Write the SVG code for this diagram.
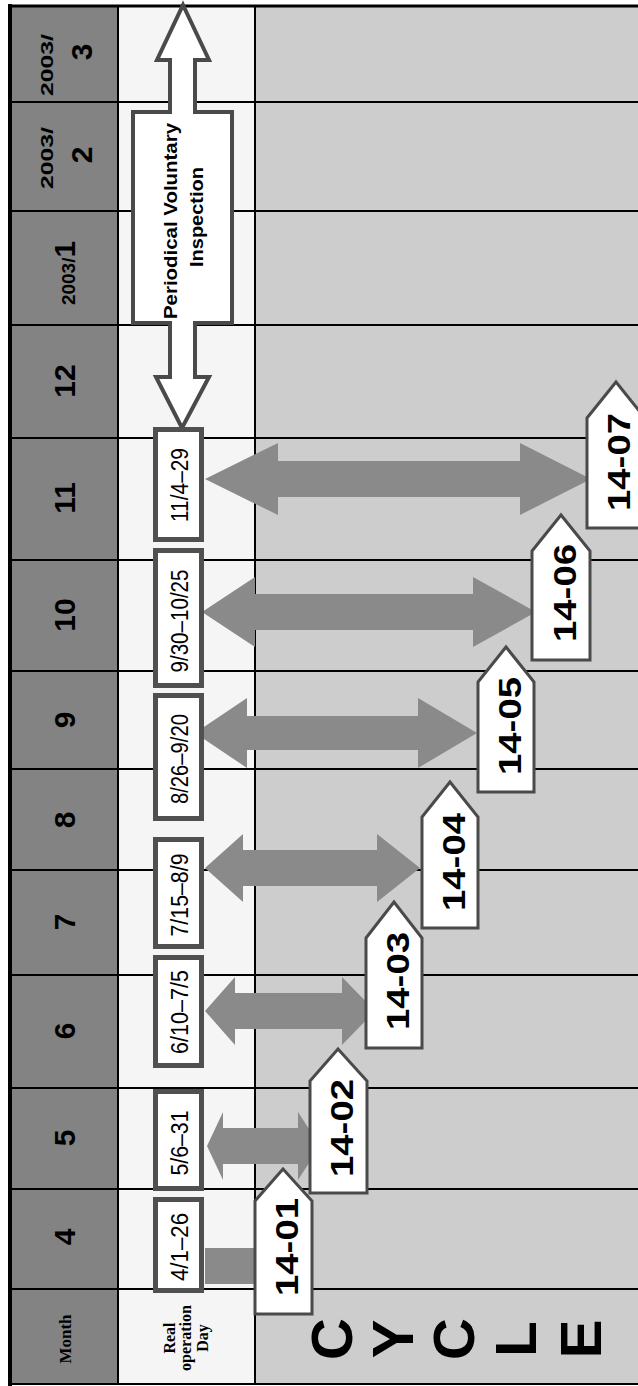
<svg xmlns="http://www.w3.org/2000/svg" width="638" height="1386" viewBox="0 0 638 1386">
<style>
.mon{font-family:"Liberation Sans",Arial,sans-serif;font-weight:bold;font-size:30px;fill:#000;text-anchor:middle}
.yr{font-family:"Liberation Sans",Arial,sans-serif;font-weight:bold;font-size:17px;fill:#000;text-anchor:middle}
.ser{font-family:"Liberation Serif","Times New Roman",serif;font-weight:bold;font-size:16px;fill:#000;text-anchor:middle}
.date{font-family:"Liberation Sans",Arial,sans-serif;font-size:23px;fill:#000;text-anchor:middle}
.tagt{font-family:"Liberation Sans",Arial,sans-serif;font-weight:bold;font-size:32px;fill:#000;text-anchor:middle}
.pvi{font-family:"Liberation Sans",Arial,sans-serif;font-weight:bold;font-size:19px;fill:#000;text-anchor:middle}
.cyc{font-family:"Liberation Sans",Arial,sans-serif;font-weight:bold;font-size:58px;fill:#000;text-anchor:middle}
.box{fill:#fff;stroke:#505050;stroke-width:5}
.tag{fill:#fff;stroke:#4a4a4a;stroke-width:3}
.arr{fill:#8a8a8a;stroke:none}
.rule{stroke:#000;stroke-width:2}
</style>
<rect x="0" y="0" width="638" height="1386" fill="#fff"/>
<g id="table">
<rect x="10" y="6" width="108" height="1378" fill="#838383"/>
<rect x="118" y="6" width="137" height="1378" fill="#f5f5f5"/>
<rect x="255" y="6" width="383" height="1378" fill="#cdcdcd"/>
<g class="rule">
<line x1="10" y1="102" x2="638" y2="102"/>
<line x1="10" y1="211" x2="638" y2="211"/>
<line x1="10" y1="325" x2="638" y2="325"/>
<line x1="10" y1="438" x2="638" y2="438"/>
<line x1="10" y1="560" x2="638" y2="560"/>
<line x1="10" y1="671" x2="638" y2="671"/>
<line x1="10" y1="769" x2="638" y2="769"/>
<line x1="10" y1="870" x2="638" y2="870"/>
<line x1="10" y1="975" x2="638" y2="975"/>
<line x1="10" y1="1088" x2="638" y2="1088"/>
<line x1="10" y1="1189" x2="638" y2="1189"/>
<line x1="10" y1="1289" x2="638" y2="1289"/>
<line x1="118" y1="6" x2="118" y2="1384"/>
<line x1="255" y1="6" x2="255" y2="1384"/>
</g>
<line x1="8" y1="6" x2="638" y2="6" stroke="#000" stroke-width="3"/>
<line x1="10" y1="4" x2="10" y2="1386" stroke="#000" stroke-width="4"/>
<line x1="8" y1="1384" x2="638" y2="1384" stroke="#000" stroke-width="2"/>
</g>
<g id="month-labels">
<g transform="translate(53,65) rotate(-90)"><text class="yr" textLength="62" lengthAdjust="spacingAndGlyphs">2003/</text></g>
<g transform="translate(92,52) rotate(-90)"><text class="mon">3</text></g>
<g transform="translate(53,158) rotate(-90)"><text class="yr" textLength="62" lengthAdjust="spacingAndGlyphs">2003/</text></g>
<g transform="translate(92,155) rotate(-90)"><text class="mon">2</text></g>
<g transform="translate(75,273) rotate(-90)"><text class="mon"><tspan style="font-size:19px">2003/</tspan>1</text></g>
<g transform="translate(75,381) rotate(-90)"><text class="mon">12</text></g>
<g transform="translate(75,498) rotate(-90)"><text class="mon">11</text></g>
<g transform="translate(75,615) rotate(-90)"><text class="mon">10</text></g>
<g transform="translate(75,720) rotate(-90)"><text class="mon">9</text></g>
<g transform="translate(75,820) rotate(-90)"><text class="mon">8</text></g>
<g transform="translate(75,922) rotate(-90)"><text class="mon">7</text></g>
<g transform="translate(75,1031) rotate(-90)"><text class="mon">6</text></g>
<g transform="translate(75,1138) rotate(-90)"><text class="mon">5</text></g>
<g transform="translate(75,1237) rotate(-90)"><text class="mon">4</text></g>
<g transform="translate(71,1339) rotate(-90)"><text class="ser" style="font-size:17px">Month</text></g>
</g>
<g id="real-operation-day" transform="translate(0,1338) rotate(-90)">
<text class="ser" x="0" y="175">Real</text>
<text class="ser" x="0" y="191">operation</text>
<text class="ser" x="0" y="208">Day</text>
</g>
<g id="periodical-inspection">
<path d="M183,5 L209,60 L195,60 L195,112 L232,112 L232,323 L195,323 L195,377 L209,377 L182,428 L156,377 L170,377 L170,323 L133,323 L133,112 L170,112 L170,60 L157,60 Z" fill="#fff" stroke="#4a4a4a" stroke-width="4" stroke-linejoin="miter"/>
<g transform="translate(0,221) rotate(-90)"><text class="pvi" x="0" y="177" textLength="196" lengthAdjust="spacingAndGlyphs">Periodical Voluntary</text></g>
<g transform="translate(0,217) rotate(-90)"><text class="pvi" x="0" y="203" textLength="100" lengthAdjust="spacingAndGlyphs">Inspection</text></g>
</g>
<g id="connectors">
<path class="arr" d="M205,479 L278,443 L278,461 L520,461 L520,443 L591,479 L520,515 L520,497 L278,497 L278,515 Z"/>
<path class="arr" d="M202,612 L255,577 L255,594 L473,594 L473,577 L536,612 L473,647 L473,630 L255,630 L255,647 Z"/>
<path class="arr" d="M195,733 L247,698 L247,716 L418,716 L418,698 L477,733 L418,768 L418,750 L247,750 L247,768 Z"/>
<path class="arr" d="M205,868 L243,834 L243,850 L377,850 L377,834 L420,868 L377,902 L377,886 L243,886 L243,902 Z"/>
<path class="arr" d="M205,1011 L235,977 L235,993 L342,993 L342,977 L375,1011 L342,1045 L342,1029 L235,1029 L235,1045 Z"/>
<path class="arr" d="M207,1146 L223,1112 L223,1128 L298,1128 L298,1112 L320,1146 L298,1180 L298,1164 L223,1164 L223,1180 Z"/>
<rect class="arr" x="205" y="1248" width="57" height="36"/>
</g>
<g id="date-11">
<rect class="box" x="155.5" y="429.5" width="46" height="110"/>
<g transform="translate(188,485) rotate(-90)"><text class="date" textLength="74" lengthAdjust="spacingAndGlyphs">11/4–29</text></g>
</g>
<g id="date-10">
<rect class="box" x="155.5" y="550.5" width="46" height="135"/>
<g transform="translate(188,621) rotate(-90)"><text class="date" textLength="103" lengthAdjust="spacingAndGlyphs">9/30–10/25</text></g>
</g>
<g id="date-9">
<rect class="box" x="155.5" y="695.5" width="46" height="123"/>
<g transform="translate(188,759) rotate(-90)"><text class="date" textLength="90" lengthAdjust="spacingAndGlyphs">8/26–9/20</text></g>
</g>
<g id="date-7">
<rect class="box" x="155.5" y="839.5" width="46" height="107"/>
<g transform="translate(188,895) rotate(-90)"><text class="date" textLength="83" lengthAdjust="spacingAndGlyphs">7/15–8/9</text></g>
</g>
<g id="date-6">
<rect class="box" x="155.5" y="957.5" width="46" height="108"/>
<g transform="translate(188,1012) rotate(-90)"><text class="date" textLength="84" lengthAdjust="spacingAndGlyphs">6/10–7/5</text></g>
</g>
<g id="date-5">
<rect class="box" x="155.5" y="1091.5" width="46" height="97"/>
<g transform="translate(188,1143) rotate(-90)"><text class="date" textLength="65" lengthAdjust="spacingAndGlyphs">5/6–31</text></g>
</g>
<g id="date-4">
<rect class="box" x="155.5" y="1199.5" width="46" height="91"/>
<g transform="translate(188,1247) rotate(-90)"><text class="date" textLength="68" lengthAdjust="spacingAndGlyphs">4/1–26</text></g>
</g>
<g id="tag-14-01">
<path class="tag" d="M255,1201 L283,1169 L312,1201 L312,1314 L255,1314 Z"/>
<g transform="translate(298,1247) rotate(-90)"><text class="tagt" textLength="98" lengthAdjust="spacingAndGlyphs">14-01</text></g>
</g>
<g id="tag-14-02">
<path class="tag" d="M310,1081 L338,1049 L367,1081 L367,1193 L310,1193 Z"/>
<g transform="translate(353,1128) rotate(-90)"><text class="tagt" textLength="98" lengthAdjust="spacingAndGlyphs">14-02</text></g>
</g>
<g id="tag-14-03">
<path class="tag" d="M366,938 L394,902 L422,938 L422,1048 L366,1048 Z"/>
<g transform="translate(409,981) rotate(-90)"><text class="tagt" textLength="98" lengthAdjust="spacingAndGlyphs">14-03</text></g>
</g>
<g id="tag-14-04">
<path class="tag" d="M422,817 L450,782 L478,817 L478,928 L422,928 Z"/>
<g transform="translate(465,862) rotate(-90)"><text class="tagt" textLength="98" lengthAdjust="spacingAndGlyphs">14-04</text></g>
</g>
<g id="tag-14-05">
<path class="tag" d="M478,682 L506,647 L534,682 L534,792 L478,792 Z"/>
<g transform="translate(521,726) rotate(-90)"><text class="tagt" textLength="98" lengthAdjust="spacingAndGlyphs">14-05</text></g>
</g>
<g id="tag-14-06">
<path class="tag" d="M532,551 L561,515 L590,551 L590,660 L532,660 Z"/>
<g transform="translate(576,593) rotate(-90)"><text class="tagt" textLength="98" lengthAdjust="spacingAndGlyphs">14-06</text></g>
</g>
<g id="tag-14-07">
<path class="tag" d="M587,418 L616,382 L645,418 L645,528 L587,528 Z"/>
<g transform="translate(630,462) rotate(-90)"><text class="tagt" textLength="98" lengthAdjust="spacingAndGlyphs">14-07</text></g>
</g>
<g id="cycle">
<g transform="translate(352,1339) rotate(-90)"><text class="cyc">C</text></g>
<g transform="translate(413,1339) rotate(-90)"><text class="cyc">Y</text></g>
<g transform="translate(474,1339) rotate(-90)"><text class="cyc">C</text></g>
<g transform="translate(536,1339) rotate(-90)"><text class="cyc">L</text></g>
<g transform="translate(601,1339) rotate(-90)"><text class="cyc">E</text></g>
</g>
</svg>
